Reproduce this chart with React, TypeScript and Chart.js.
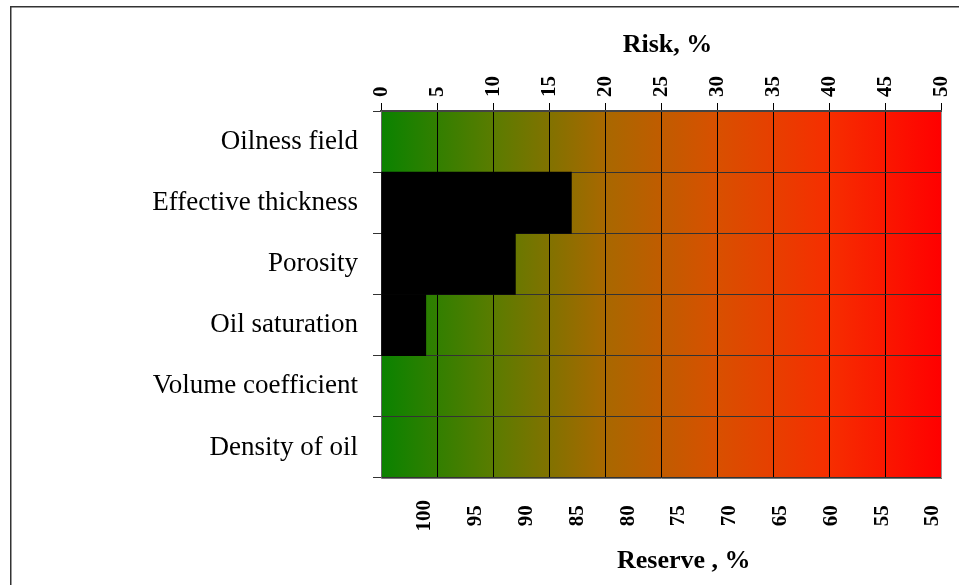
import React, { useEffect, useRef } from 'react';
import { Chart, registerables } from 'chart.js';

Chart.register(...registerables);

const categories = [
  'Oilness field',
  'Effective thickness',
  'Porosity',
  'Oil saturation',
  'Volume coefficient',
  'Density of oil',
];
const riskValues = [0, 17, 12, 4, 0, 0];
const riskTicks = [0, 5, 10, 15, 20, 25, 30, 35, 40, 45, 50];
const reserveTicks = [100, 95, 90, 85, 80, 75, 70, 65, 60, 55, 50];

const FONT = '"Liberation Serif", "Times New Roman", serif';

export default function App() {
  const ref = useRef<HTMLCanvasElement>(null);

  useEffect(() => {
    const canvas = ref.current;
    if (!canvas) return;

    const bgPlugin = {
      id: 'bgGradient',
      beforeDraw(chart: any) {
        const { ctx, chartArea: a } = chart;
        ctx.save();
        const g = ctx.createLinearGradient(a.left, 0, a.right, 0);
        g.addColorStop(0, '#0a8200');
        g.addColorStop(0.2, '#5a7c00');
        g.addColorStop(0.4, '#a86800');
        g.addColorStop(0.6, '#d85000');
        g.addColorStop(0.8, '#f62e00');
        g.addColorStop(1, '#ff0000');
        ctx.fillStyle = g;
        ctx.fillRect(a.left, a.top, a.right - a.left, a.bottom - a.top);
        ctx.strokeStyle = '#333';
        ctx.lineWidth = 1.5;
        ctx.strokeRect(10.75, 6.75, 3000, 3000);
        ctx.restore();
      },
    };

    const chart = new Chart(canvas, {
      type: 'bar',
      data: {
        labels: categories,
        datasets: [
          {
            data: riskValues,
            backgroundColor: '#000',
            borderWidth: 0,
            barPercentage: 1,
            categoryPercentage: 1,
            xAxisID: 'x',
            yAxisID: 'y',
          },
        ],
      },
      options: {
        indexAxis: 'y',
        animation: false,
        responsive: false,
        devicePixelRatio: 1,
        layout: { padding: { left: 0, right: 18, top: 0, bottom: 0 } },
        plugins: { legend: { display: false }, tooltip: { enabled: false } },
        scales: {
          x: {
            type: 'linear',
            position: 'top',
            min: 0,
            max: 50,
            afterBuildTicks: (s: any) => {
              s.ticks = riskTicks.map((v) => ({ value: v }));
            },
            ticks: {
              autoSkip: false,
              minRotation: 90,
              maxRotation: 90,
              padding: 6,
              labelOffset: 26,
              color: '#000',
              font: { family: FONT, size: 21, weight: 'bold' },
            },
            grid: {
              color: (c: any) =>
                c.tick && (c.tick.value === 0 || c.tick.value === 50) ? '#999' : '#000',
              tickColor: '#000',
              tickLength: 8,
            },
            border: { color: '#444', width: 2 },
            title: {
              display: true,
              text: '  Risk, %',
              color: '#000',
              font: { family: FONT, size: 26, weight: 'bold' },
              padding: { top: 30, bottom: 0 },
            },
            afterFit: (s: any) => {
              s.height = 111;
              s.paddingLeft = 0;
              s.paddingRight = 0;
            },
          },
          x2: {
            type: 'linear',
            position: 'bottom',
            min: 49.2,
            max: 104.33,
            reverse: true,
            afterBuildTicks: (s: any) => {
              s.ticks = reserveTicks.map((v) => ({ value: v }));
            },
            ticks: {
              autoSkip: false,
              minRotation: 90,
              maxRotation: 90,
              padding: 22,
              color: '#000',
              font: { family: FONT, size: 21, weight: 'bold' },
              callback: (v: any) => {
                const s = String(v);
                return s.length < 3 ? s + ' ' : s;
              },
            },
            grid: { display: false, drawTicks: false },
            border: { display: true, color: '#777' },
            title: {
              display: true,
              text: '       Reserve , %',
              color: '#000',
              font: { family: FONT, size: 26, weight: 'bold' },
              padding: { top: 0, bottom: 8 },
            },
            afterFit: (s: any) => {
              s.height = 107;
              s.paddingLeft = 0;
              s.paddingRight = 0;
            },
          },
          y: {
            type: 'category',
            position: 'left',
            offset: true,
            grid: { offset: true, color: '#333', tickColor: '#333', tickLength: 8 },
            ticks: {
              padding: 15,
              color: '#000',
              font: { family: FONT, size: 27 },
            },
            border: { color: '#999' },
            afterFit: (s: any) => {
              s.width = 381;
              s.paddingTop = 0;
              s.paddingBottom = 0;
            },
          },
        },
      } as any,
      plugins: [bgPlugin],
    });

    return () => chart.destroy();
  }, []);

  return (
    <div style={{ position: 'fixed', left: 0, top: 0, width: 959, height: 585, background: '#fff' }}>
      <canvas ref={ref} width={959} height={585} style={{ display: 'block' }} />
    </div>
  );
}
